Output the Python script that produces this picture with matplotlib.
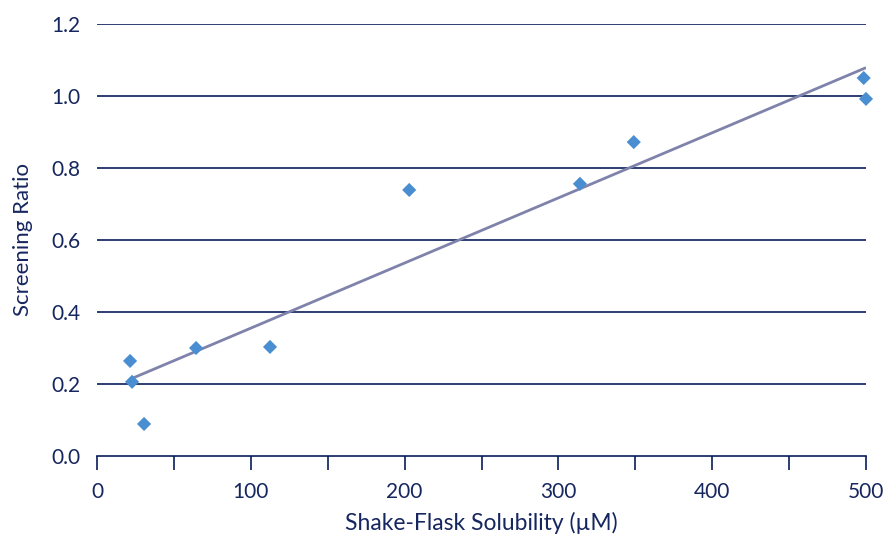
import numpy as np
import matplotlib
matplotlib.use("Agg")
import matplotlib.pyplot as plt

# Data
solubility = [21.5, 22.8, 30.6, 64.4, 112.5, 203, 314, 349, 498.5, 500]
ratio = [0.264, 0.206, 0.089, 0.300, 0.303, 0.739, 0.756, 0.872, 1.050, 0.992]
x_ticks = [0, 100, 200, 300, 400, 500]
y_ticks = [0.0, 0.2, 0.4, 0.6, 0.8, 1.0, 1.2]
y_tick_labels = ["0.0", "0.2", "0.4", "0.6", "0.8", "1.0", "1.2"]

navy = "#0a1c5a"
text_col = "#16265f"
marker_col = "#4a8ed2"
line_col = "#7f82aa"

plt.rcParams["font.family"] = ["Lato", "DejaVu Sans"]

fig = plt.figure(figsize=(8.86, 5.38), dpi=100)
ax = fig.add_axes([97 / 886, 1 - 456 / 538, (866 - 97) / 886, (456 - 24) / 538])

xs = np.array(solubility)
ys = np.array(ratio)
slope, intercept = np.polyfit(xs, ys, 1)
xl = np.array([xs.min(), xs.max()])
ax.plot(xl, slope * xl + intercept, color=line_col, lw=2, zorder=3, solid_capstyle="butt")

ax.scatter(xs, ys, marker="D", s=7.2 ** 2, color=marker_col, edgecolors="none", zorder=4, clip_on=False)

ax.set_xlim(0, 500)
ax.set_ylim(0, 1.2)

for yv in y_ticks[1:]:
    ax.axhline(yv, color=navy, lw=1.2, zorder=1)

for s in ["top", "right", "left"]:
    ax.spines[s].set_visible(False)
ax.spines["bottom"].set_color(navy)
ax.spines["bottom"].set_linewidth(1.2)

ax.set_xticks(x_ticks)
ax.set_xticks(np.arange(50, 500, 100), minor=True)
ax.tick_params(axis="x", which="both", direction="out", length=10, width=1.2, color=navy,
               labelsize=15, labelcolor=text_col, pad=9)
ax.set_yticks(y_ticks)
ax.set_yticklabels(y_tick_labels)
ax.tick_params(axis="y", length=0, labelsize=15, labelcolor=text_col, pad=12)

ax.set_xlabel("Shake-Flask Solubility (\u00b5M)", fontsize=16.5, color=text_col, labelpad=7)
ax.set_ylabel("Screening Ratio", fontsize=16, color=text_col, labelpad=13)

fig.savefig("out.png", dpi=100)
